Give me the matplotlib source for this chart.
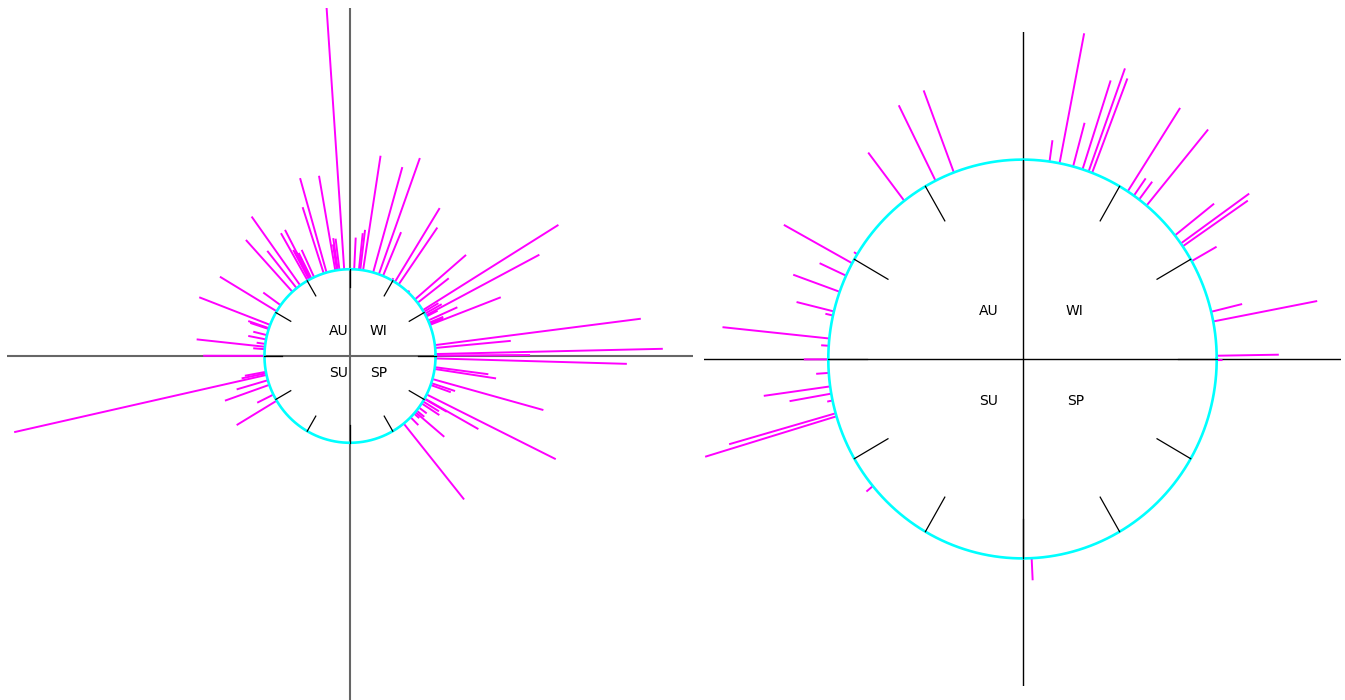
import numpy as np
import matplotlib
matplotlib.use("Agg")
import matplotlib.pyplot as plt

# Направления (градусы, против часовой от оси X) и радиус конца штриха
# (окружность сезонов имеет радиус 1)
left_angle = [93.9, 105.9, 99.9, 107.9, 125.6, 132.3, 128.6, 119.7, 117.6,
              118.5, 117.7, 116.8, 114.8, 149.0, 144.2, 159.0, 98.2, 98.8,
              97.1, 87.2, 84.0, 83.1, 81.2, 74.3, 70.3, 67.3, 58.4, 55.4,
              60.5, 47.3, 40.65, 37.8, 31.8, 27.8, 21.0, 24.1, 30.5, 29.1,
              27.0, 22.5, 21.7, 7.2, 5.3, 1.3, 0.3, -1.6, -7.4, -8.6, -18.2,
              -19.5, -15.4, -26.3, -29.3, -40.2, -33.1, -29.6, -31.5, -36.4,
              -38.9, -41.5, -44.9, -51.1, 161.3, 161.9, 166.1, 169.0, 172.0,
              173.9, 175.5, 179.9, 191.5, 190.5, 192.6, 196.2, 199.4, 206.4,
              211.0]
left_reach = [4.023, 2.131, 2.108, 1.802, 1.976, 1.808, 1.550, 1.629, 1.640,
              1.391, 1.359, 1.331, 1.347, 1.774, 1.250, 1.888, 1.372, 1.301,
              1.362, 1.366, 1.423, 1.464, 2.335, 2.261, 2.423, 1.547, 2.001,
              1.798, 1.030, 1.024, 1.788, 1.461, 2.867, 2.503, 1.888, 1.375,
              1.20, 1.227, 1.15, 1.18, 1.175, 3.427, 1.888, 3.658, 2.105,
              3.238, 1.631, 1.727, 1.293, 1.25, 2.345, 2.683, 1.721, 1.443,
              1.247, 1.301, 1.22, 1.114, 1.116, 1.08, 1.128, 2.124, 1.256,
              1.227, 1.165, 1.212, 1.102, 1.803, 1.135, 1.716, 1.293, 1.25,
              4.023, 1.380, 1.550, 1.211, 1.546]

right_angle = [127.5, 116.6, 110.7, 82.0, 79.0, 74.9, 72.0, 70.1, 69.0, 57.2,
               55.0, 53.1, 50.3, 38.3, 35.4, 34.4, 29.4, 13.7, 10.85, 0.94,
               -0.3, -87.3, 219.6, 196.7, 195.8, 192.0, 190.0, 187.9, 184.0,
               180.1, 176.2, 174.1, 167.4, 166.2, 160.3, 155.3, 151.3, 148.3]
right_reach = [1.305, 1.423, 1.440, 1.108, 1.664, 1.227, 1.469, 1.550, 1.507,
               1.498, 1.106, 1.112, 1.496, 1.257, 1.432, 1.406, 1.147, 1.164,
               1.545, 1.320, 1.03, 1.111, 1.043, 1.706, 1.570, 1.028, 1.218,
               1.345, 1.065, 1.126, 1.039, 1.553, 1.040, 1.198, 1.254, 1.150,
               1.401, 1.02]

seasons = ["AU", "WI", "SU", "SP"]
n_months = 12


def draw_panel(ax, angles, reach, lim, label_xy, axis_color, axis_lw):
    ax.set_xlim(-lim, lim)
    ax.set_ylim(-lim, lim)
    ax.set_axis_off()

    # Оси через центр
    ax.axhline(0, color=axis_color, lw=axis_lw, zorder=1)
    ax.axvline(0, color=axis_color, lw=axis_lw, zorder=1)

    # Штрихи наружу от окружности
    a = np.radians(angles)
    r = np.asarray(reach)
    for ai, ri in zip(a, r):
        ax.plot([np.cos(ai), ri * np.cos(ai)], [np.sin(ai), ri * np.sin(ai)],
                color="#ff00ff", lw=1.4, solid_capstyle="butt", zorder=2)

    # Окружность сезонов
    t = np.linspace(0, 2 * np.pi, 400)
    ax.plot(np.cos(t), np.sin(t), color="#00ffff", lw=1.9, zorder=3)

    # Отметки месяцев внутрь окружности
    for m in range(n_months):
        th = np.radians(90 - 30 * m)
        ax.plot([np.cos(th), 0.8 * np.cos(th)], [np.sin(th), 0.8 * np.sin(th)],
                color="black", lw=0.9, zorder=4)

    for name, (x, y) in zip(seasons, label_xy):
        ax.text(x, y, name, ha="center", va="center", fontsize=10,
                fontfamily="DejaVu Sans", zorder=5)


fig = plt.figure(figsize=(13.45, 7.0), dpi=100)

ax1 = fig.add_axes([7 / 1345, -4 / 700, 686 / 1345, 696 / 700])
draw_panel(ax1, left_angle, left_reach, 4.01,
           [(-0.135, 0.288), (0.327, 0.288), (-0.135, -0.196), (0.333, -0.196)],
           "#666666", 1.5)

ax2 = fig.add_axes([704 / 1345, 14 / 700, 637 / 1345, 654 / 700])
draw_panel(ax2, right_angle, right_reach, 1.64,
           [(-0.175, 0.241), (0.268, 0.241), (-0.175, -0.211), (0.273, -0.211)],
           "black", 1.0)

fig.savefig("out.png", dpi=100)
